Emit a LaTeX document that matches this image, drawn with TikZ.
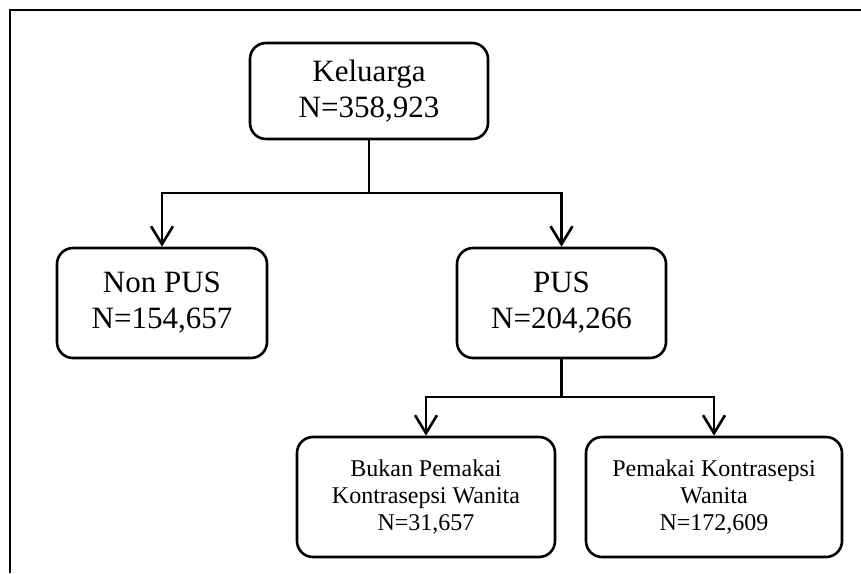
\documentclass[tikz,border=0pt]{standalone}
\usepackage{fontspec}
\setmainfont{Liberation Serif}
\usetikzlibrary{arrows.meta}

\begin{document}
\begin{tikzpicture}[x=1pt,y=-1pt,
		box/.style={draw, line width=2.6pt, rounded corners=16pt, align=center, font=\fontsize{31}{36}\selectfont},
		smallbox/.style={box, font=\fontsize{24}{27}\selectfont},
		arr/.style={line width=2.6pt, -{Straight Barb[length=18pt,width=22pt,line width=2.6pt]}}]
		\useasboundingbox (0,0) rectangle (861,573);
		\draw[line width=2.6pt] (10,573) -- (10,10) -- (861,10);
		
		\node[box, minimum width=238pt, minimum height=96pt] (keluarga) at (369,91) {Keluarga\\N=358,923};
		\node[box, minimum width=210pt, minimum height=110pt] (nonpus) at (162,303) {Non PUS\\N=154,657};
		\node[box, minimum width=209pt, minimum height=110pt] (pus) at (561.5,303) {PUS\\N=204,266};
		\node[smallbox, minimum width=258pt, minimum height=120pt] (bukan) at (426,497) {Bukan Pemakai\\Kontrasepsi Wanita\\N=31,657};
		\node[smallbox, minimum width=256pt, minimum height=120pt] (pemakai) at (714,497) {Pemakai Kontrasepsi\\Wanita\\N=172,609};
		
		\coordinate (split1) at (369,193);
		\coordinate (split2) at (561.5,397);
		\draw[arr] (keluarga.south) -- (split1) -| (nonpus.north);
		\draw[arr] (split1) -| (pus.north);
		\draw[arr] (pus.south) -- (split2) -| (bukan.north);
		\draw[arr] (split2) -| (pemakai.north);
	\end{tikzpicture}
\end{document}
